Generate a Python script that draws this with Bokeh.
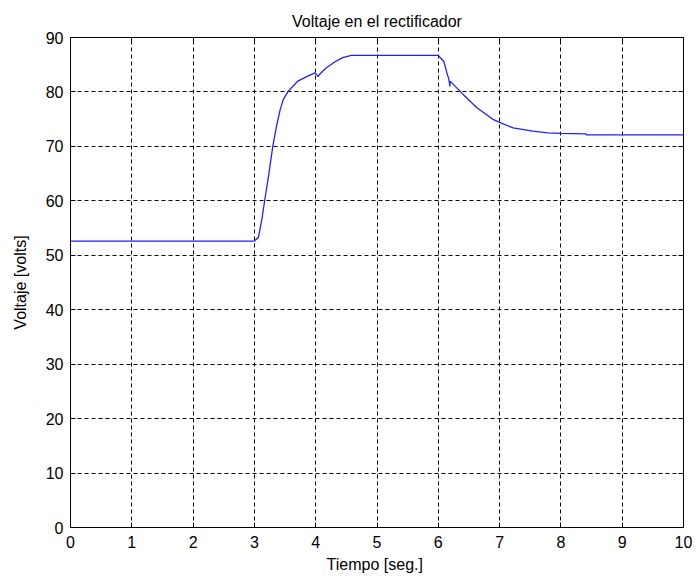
from bokeh.plotting import figure
from bokeh.models import Range1d, FixedTicker, LinearAxis
from bokeh.embed import file_html
from bokeh.resources import INLINE

# Time [s] and rectifier voltage [V]
t = [0.0, 3.0, 3.065, 3.12, 3.17, 3.23, 3.30, 3.36, 3.42, 3.47, 3.55, 3.71, 3.87,
     3.99, 4.04, 4.06, 4.17, 4.31, 4.44, 4.58, 6.0, 6.09, 6.14, 6.17, 6.19, 6.19,
     6.20, 6.41, 6.63, 6.90, 7.0, 7.22, 7.54, 7.79, 8.0, 8.41, 8.42, 10.0]
v = [52.6, 52.6, 53.3, 56.5, 60.2, 64.5, 70.0, 73.7, 76.7, 78.6, 80.1, 82.0, 82.9,
     83.5, 82.8, 83.2, 84.4, 85.5, 86.3, 86.7, 86.7, 85.6, 83.5, 82.4, 81.0, 81.9,
     81.9, 79.5, 77.1, 74.9, 74.4, 73.4, 72.8, 72.5, 72.4, 72.3, 72.1, 72.1]

x_ticks = list(range(0, 11))
y_ticks = list(range(0, 91, 10))

title_text = "Voltaje en el rectificador"
x_label = "Tiempo  [seg.]"
y_label = "Voltaje [volts]"

FONT = "Liberation Sans"
FS = "16px"

p = figure(width=698, height=579, output_backend="svg", toolbar_location=None,
           x_range=Range1d(0, 10), y_range=Range1d(0, 90),
           min_border_left=70, min_border_right=15, min_border_top=37,
           min_border_bottom=52, x_axis_label=x_label, y_axis_label=y_label)

p.title.text = title_text
p.title.align = "center"
p.title.text_font = FONT
p.title.text_font_size = FS
p.title.text_font_style = "normal"
p.title.text_color = "black"
p.title.standoff = 16
p.title.offset = 0

p.background_fill_color = "white"
p.border_fill_color = "white"
p.outline_line_color = "black"
p.outline_line_width = 1

for ax in [p.xaxis[0], p.yaxis[0]]:
    ax.major_tick_in = 5
    ax.major_tick_out = 0
    ax.minor_tick_in = 0
    ax.minor_tick_out = 0
    ax.axis_line_color = "black"
    ax.major_tick_line_color = "black"
    ax.major_label_text_font = FONT
    ax.major_label_text_font_size = FS
    ax.major_label_text_color = "black"
    ax.axis_label_text_font = FONT
    ax.axis_label_text_font_size = FS
    ax.axis_label_text_font_style = "normal"
    ax.axis_label_text_color = "black"

p.xaxis[0].ticker = FixedTicker(ticks=x_ticks)
p.yaxis[0].ticker = FixedTicker(ticks=y_ticks)
p.xaxis[0].major_label_standoff = 8
p.xaxis[0].axis_label_standoff = 5
p.yaxis[0].major_label_standoff = 7
p.yaxis[0].axis_label_standoff = 14

top = LinearAxis(ticker=FixedTicker(ticks=x_ticks), major_tick_in=5, major_tick_out=0,
                 minor_tick_in=0, minor_tick_out=0,
                 major_label_overrides={i: "" for i in x_ticks},
                 major_label_standoff=0, axis_line_color="black")
right = LinearAxis(ticker=FixedTicker(ticks=y_ticks), major_tick_in=5, major_tick_out=0,
                   minor_tick_in=0, minor_tick_out=0,
                   major_label_overrides={i: "" for i in y_ticks},
                   major_label_standoff=0, axis_line_color="black")
p.add_layout(top, "above")
p.add_layout(right, "right")

p.xgrid.ticker = FixedTicker(ticks=x_ticks)
p.ygrid.ticker = FixedTicker(ticks=y_ticks)
for g in [p.xgrid[0], p.ygrid[0]]:
    g.grid_line_color = "black"
    g.grid_line_dash = "4 3"
    g.grid_line_width = 1
    g.grid_line_alpha = 1.0

p.line(t, v, line_color="#2020ff", line_width=1.3)

open("out.html", "w").write(file_html(p, INLINE))
